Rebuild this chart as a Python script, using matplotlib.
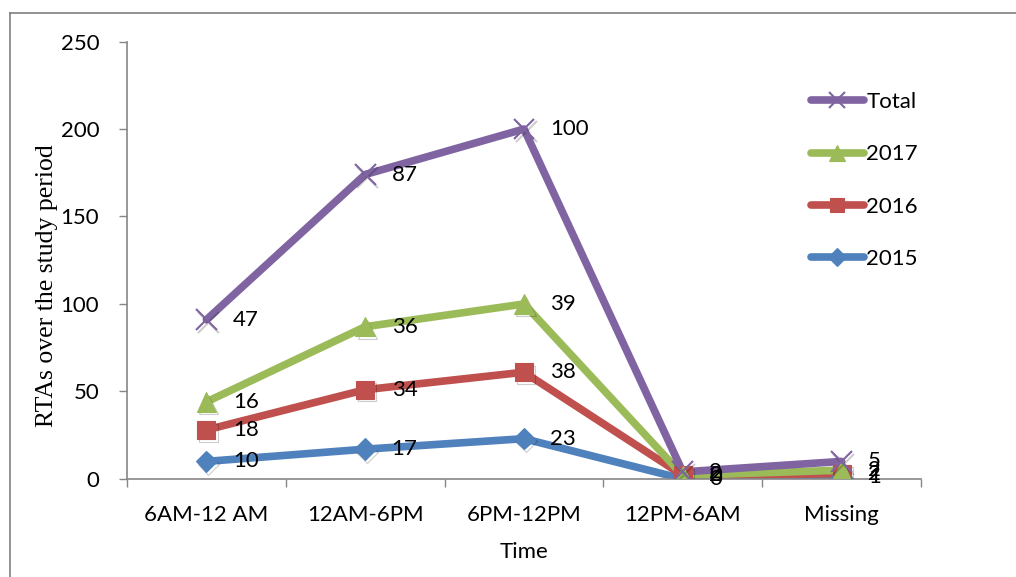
import numpy as np
import matplotlib
matplotlib.use("Agg")
from matplotlib import pyplot as plt
from matplotlib.lines import Line2D
import matplotlib.patheffects as pe

# time-of-day buckets and yearly RTA counts
periods = ["6AM-12 AM", "12AM-6PM", "6PM-12PM", "12PM-6AM", "Missing"]
y2015 = [10, 17, 23, 0, 1]
y2016 = [18, 34, 38, 2, 2]
y2017 = [16, 36, 39, 0, 2]
total = [47, 87, 100, 2, 5]

series = [
    ("2015", y2015, "#4F81BD", "D", 11),
    ("2016", y2016, "#C0504D", "s", 13),
    ("2017", y2017, "#9BBB59", "^", 14),
    ("Total", total, "#8064A2", "x", 15),
]

FS = 16
plt.rcParams["font.family"] = ["Lato", "DejaVu Sans"]
fig = plt.figure(figsize=(10.16, 5.77), dpi=100)
ax = fig.add_axes([0.125, 0.170, 0.7815, 0.758])

x = np.arange(len(periods))
base = np.zeros(len(periods))
handles = {}
shadow = [pe.SimpleLineShadow(offset=(1.5, -2), alpha=0.2, shadow_color="black"), pe.Normal()]
for name, vals, color, marker, ms in series:
    stacked = base + np.array(vals)
    ax.plot(x, stacked, color=color, lw=5.5, solid_capstyle="round",
            solid_joinstyle="round", zorder=2)
    ax.plot(x, stacked, ls="none", marker=marker, ms=ms, color=color,
            mec=color, mew=1.5 if marker == "x" else 0.8, zorder=3,
            path_effects=shadow)
    for xi, yi, v in zip(x, stacked, vals):
        ax.annotate(str(v), (xi, yi), xytext=(19, 0), textcoords="offset points",
                    ha="left", va="center", fontsize=FS, color="black", zorder=4)
    handles[name] = Line2D([], [], color=color, lw=5.5, solid_capstyle="round",
                           marker=marker, ms=ms * 0.8, mec=color,
                           mew=1.5 if marker == "x" else 0.8)
    base = stacked

ax.set_xlim(-0.5, len(periods) - 0.5)
ax.set_ylim(0, 250)
ax.set_yticks([0, 50, 100, 150, 200, 250])
ax.set_xticks(x)
ax.set_xticklabels(periods)
ax.set_xticks(np.arange(-0.5, len(periods)), minor=True)
ax.tick_params(axis="x", which="major", length=0, pad=26, labelsize=FS)
ax.tick_params(axis="x", which="minor", length=6, width=1, color="#868686")
ax.tick_params(axis="y", length=6, width=1, color="#868686", pad=14, labelsize=FS)
for lbl in ax.get_xticklabels():
    lbl.set_va("center")

for side in ["top", "right"]:
    ax.spines[side].set_visible(False)
for side in ["left", "bottom"]:
    ax.spines[side].set_color("#868686")
    ax.spines[side].set_linewidth(1.2)

ax.set_xlabel("Time", fontsize=FS, labelpad=12)
fig.text(0.046, 0.505, "RTAs over the study period", rotation=90, ha="center",
         va="center", fontsize=18.5, family="Liberation Serif")

order = ["Total", "2017", "2016", "2015"]
ax.legend([handles[k] for k in order], order, loc="upper left",
          bbox_to_anchor=(0.836, 0.93), frameon=False, fontsize=FS,
          handlelength=2.4, handletextpad=0.1, labelspacing=1.45)

# outer border lines
fig.add_artist(Line2D([10 / 1016, 10 / 1016], [0, 1 - 13 / 577], color="#7f7f7f", lw=1.2))
fig.add_artist(Line2D([10 / 1016, 1], [1 - 13 / 577, 1 - 13 / 577], color="#7f7f7f", lw=1.2))

fig.savefig("out.png", dpi=100)
